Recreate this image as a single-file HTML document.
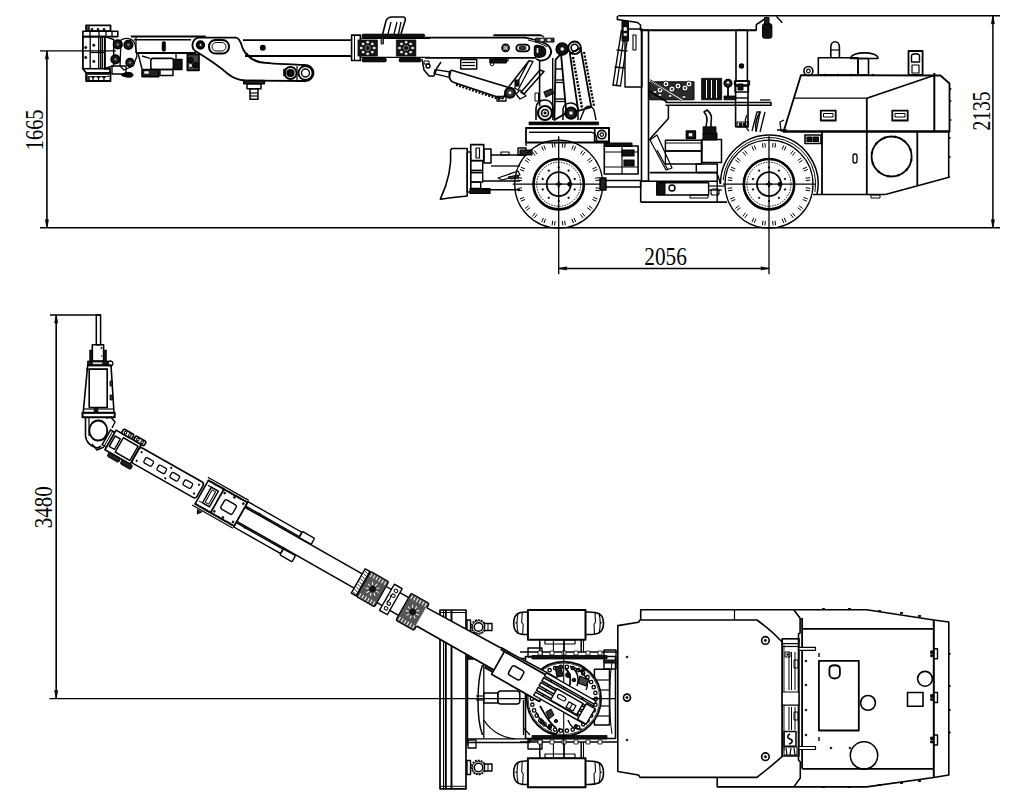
<!DOCTYPE html>
<html><head><meta charset="utf-8"><style>
html,body{margin:0;padding:0;background:#fff;overflow:hidden;}
svg{display:block;}
text{font-family:"Liberation Serif",serif;fill:#000;stroke:none;}
</style></head><body>
<svg width="1011" height="800" viewBox="0 0 1011 800" stroke="#000" fill="none" stroke-linecap="butt" stroke-linejoin="round">
<line x1="40.0" y1="227.8" x2="1000.0" y2="227.8" stroke-width="1.6" />
<line x1="40.0" y1="50.9" x2="116.0" y2="50.9" stroke-width="1.4" />
<line x1="46.9" y1="50.9" x2="46.9" y2="227.8" stroke-width="1.6" />
<path d="M46.9,50.9 L45.3,58.9 L48.5,58.9 Z" stroke-width="0.6" fill="#000" />
<path d="M46.9,227.8 L45.3,219.8 L48.5,219.8 Z" stroke-width="0.6" fill="#000" />
<text x="42.6" y="150.2" font-size="24.5" text-anchor="start" textLength="40.7" lengthAdjust="spacingAndGlyphs" transform="rotate(-90 42.6 150.2)">1665</text>
<line x1="618.0" y1="15.8" x2="1000.0" y2="15.8" stroke-width="1.5" />
<line x1="992.9" y1="15.8" x2="992.9" y2="227.8" stroke-width="1.5" />
<path d="M992.9,15.8 L991.3,23.8 L994.5,23.8 Z" stroke-width="0.6" fill="#000" />
<path d="M992.9,227.8 L991.3,219.8 L994.5,219.8 Z" stroke-width="0.6" fill="#000" />
<text x="990.3" y="130.6" font-size="24.5" text-anchor="start" textLength="39" lengthAdjust="spacingAndGlyphs" transform="rotate(-90 990.3 130.6)">2135</text>
<line x1="558.7" y1="268.4" x2="769.0" y2="268.4" stroke-width="1.5" />
<path d="M558.7,268.4 L566.7,266.8 L566.7,270.0 Z" stroke-width="0.6" fill="#000" />
<path d="M769.0,268.4 L761.0,266.8 L761.0,270.0 Z" stroke-width="0.6" fill="#000" />
<text x="644.3" y="265" font-size="24.5" text-anchor="start" textLength="42.6" lengthAdjust="spacingAndGlyphs">2056</text>
<line x1="50.0" y1="315.0" x2="100.6" y2="315.0" stroke-width="1.5" />
<line x1="56.2" y1="315.0" x2="56.2" y2="698.6" stroke-width="1.6" />
<path d="M56.2,315.0 L54.6,323.0 L57.8,323.0 Z" stroke-width="0.6" fill="#000" />
<path d="M56.2,698.6 L54.6,690.6 L57.8,690.6 Z" stroke-width="0.6" fill="#000" />
<line x1="49.5" y1="698.6" x2="560.0" y2="698.6" stroke-width="1.4" />
<text x="51.7" y="528.3" font-size="24.5" text-anchor="start" textLength="42" lengthAdjust="spacingAndGlyphs" transform="rotate(-90 51.7 528.3)">3480</text>
<rect x="86.1" y="25.3" width="24.4" height="5.9" stroke-width="1.8" fill="none" rx="0" />
<rect x="91.0" y="28.5" width="2.0" height="2.7" stroke-width="0.5" fill="#111" rx="0" />
<rect x="97.0" y="28.5" width="2.0" height="2.7" stroke-width="0.5" fill="#111" rx="0" />
<rect x="103.0" y="28.5" width="2.0" height="2.7" stroke-width="0.5" fill="#111" rx="0" />
<rect x="87.5" y="26.5" width="2.0" height="4.0" stroke-width="0.5" fill="#222" rx="0" />
<rect x="82.9" y="31.3" width="34.9" height="5.3" stroke-width="1.6" fill="none" rx="0" />
<line x1="90.0" y1="31.3" x2="90.0" y2="36.6" stroke-width="1.3" />
<line x1="99.0" y1="31.3" x2="99.0" y2="36.6" stroke-width="1.3" />
<line x1="106.0" y1="31.3" x2="106.0" y2="36.6" stroke-width="1.3" />
<line x1="112.0" y1="31.3" x2="112.0" y2="36.6" stroke-width="1.3" />
<path d="M82.9,36.6 L82.9,68.7 L86.0,72.8 L110.0,72.8 L110.0,68.7 L104.8,68.7 L104.8,36.6 Z" stroke-width="1.8" fill="none" />
<rect x="86.1" y="72.8" width="24.4" height="8.2" stroke-width="1.8" fill="none" rx="0" />
<rect x="87.0" y="74.5" width="22.0" height="2.0" stroke-width="0.8" fill="none" rx="0" />
<path d="M91.2,77 L94.8,77 M93,77 L93,80.5" stroke-width="1.3" fill="none" />
<path d="M96.7,77 L100.3,77 M98.5,77 L98.5,80.5" stroke-width="1.3" fill="none" />
<path d="M102.2,77 L105.8,77 M104,77 L104,80.5" stroke-width="1.3" fill="none" />
<rect x="87.5" y="77.0" width="2.0" height="4.0" stroke-width="0.5" fill="#222" rx="0" />
<line x1="82.9" y1="68.7" x2="110.0" y2="68.7" stroke-width="1.6" />
<line x1="90.2" y1="36.6" x2="90.2" y2="68.7" stroke-width="1.3" />
<line x1="98.7" y1="36.6" x2="98.7" y2="68.7" stroke-width="1.3" />
<line x1="100.7" y1="36.6" x2="100.7" y2="68.7" stroke-width="1.3" />
<line x1="102.4" y1="36.6" x2="102.4" y2="68.7" stroke-width="1.3" />
<line x1="90.2" y1="52.5" x2="104.8" y2="52.5" stroke-width="1.2" />
<path d="M104.8,36.6 L113.7,39.5 L113.7,65.5 L104.8,68.7 Z" stroke-width="1.5" fill="none" />
<circle cx="93.8" cy="45.2" r="1.2" stroke-width="0.5" fill="#000" />
<circle cx="93.8" cy="61.4" r="1.2" stroke-width="0.5" fill="#000" />
<circle cx="85.7" cy="47.5" r="1.2" stroke-width="0.5" fill="#000" />
<circle cx="85.7" cy="57.5" r="1.2" stroke-width="0.5" fill="#000" />
<circle cx="117.8" cy="44.4" r="4.3" stroke-width="1.6" fill="#1a1a1a" />
<circle cx="117.8" cy="44.4" r="1.8" stroke-width="0.6" fill="#777" />
<circle cx="128.4" cy="44.8" r="4.3" stroke-width="1.6" fill="#1a1a1a" />
<circle cx="128.4" cy="44.8" r="1.8" stroke-width="0.6" fill="#777" />
<circle cx="115.4" cy="59.4" r="4.3" stroke-width="1.6" fill="#1a1a1a" />
<circle cx="115.4" cy="59.4" r="1.8" stroke-width="0.6" fill="#777" />
<circle cx="130.0" cy="62.6" r="4.0" stroke-width="1.6" fill="#1a1a1a" />
<circle cx="130.0" cy="62.6" r="1.8" stroke-width="0.6" fill="#777" />
<path d="M121,40 C125,37 133,38 135,44 L137,56 L133,66 L124,70 L120,66 Z" stroke-width="1.3" fill="none" />
<path d="M112.0,66.0 L126.0,66.0 L126.0,74.0 L112.0,74.0 Z" stroke-width="1.4" fill="none" />
<path d="M121,75 C126,71 133,72 133,75 C133,78 126,78 121,75 Z" stroke-width="1" fill="#000" />
<line x1="130.8" y1="36.6" x2="205.6" y2="36.6" stroke-width="2.0" />
<line x1="134.0" y1="39.8" x2="191.0" y2="39.8" stroke-width="1.5" />
<line x1="136.0" y1="53.0" x2="196.0" y2="53.0" stroke-width="1.8" />
<line x1="136.0" y1="36.6" x2="136.0" y2="53.0" stroke-width="1.2" />
<rect x="162.0" y="41.5" width="3.6" height="9.8" stroke-width="0.5" fill="#000" rx="1.5" />
<rect x="150.8" y="58.4" width="22.7" height="11.1" stroke-width="1.6" fill="none" rx="2" />
<rect x="142.0" y="69.5" width="16.8" height="7.1" stroke-width="1.6" fill="#222" rx="0" />
<rect x="144.0" y="71.0" width="5.0" height="3.0" stroke-width="0.5" fill="#fff" rx="0" />
<rect x="173.5" y="59.3" width="8.5" height="10.2" stroke-width="1.3" fill="#111" rx="0" />
<rect x="187.3" y="54.4" width="11.7" height="16.0" stroke-width="1.6" fill="#444" rx="0" />
<circle cx="190.5" cy="60.0" r="2.8" stroke-width="1" fill="#111" />
<circle cx="195.5" cy="65.0" r="2.8" stroke-width="1" fill="#111" />
<rect x="189.0" y="64.0" width="3.0" height="3.0" stroke-width="0.4" fill="#fff" rx="0" />
<rect x="160.0" y="69.5" width="13.0" height="6.0" stroke-width="1.5" fill="none" rx="0" />
<line x1="138.0" y1="53.0" x2="142.0" y2="69.0" stroke-width="1.4" />
<line x1="142.0" y1="56.0" x2="150.0" y2="58.4" stroke-width="1.4" />
<line x1="176.0" y1="53.0" x2="176.0" y2="59.3" stroke-width="1.3" />
<rect x="526.0" y="128.0" width="83.0" height="14.5" stroke-width="1.8" fill="none" rx="0" />
<line x1="529.0" y1="132.4" x2="592.0" y2="132.4" stroke-width="1.4" />
<path d="M529,132.4 L592,132.4 C595,133 597,136 597,142.6" stroke-width="1.4" fill="none" />
<rect x="594.7" y="128.0" width="14.3" height="13.4" stroke-width="1.8" fill="none" rx="0" />
<circle cx="601.8" cy="134.6" r="4.2" stroke-width="1.6" fill="none" />
<circle cx="601.8" cy="134.6" r="1.8" stroke-width="1.2" fill="none" />
<path d="M452,148.5 L467.2,148.5 L467.2,196 C458,197 448,198 440.3,199.2 C447,185 452,170 450.6,150 Z" stroke-width="1.6" fill="none" />
<rect x="467.2" y="152.0" width="3.5" height="40.0" stroke-width="1.3" fill="none" rx="0" />
<rect x="470.7" y="144.6" width="13.0" height="16.0" stroke-width="1.6" fill="none" rx="0" />
<rect x="476.0" y="148.0" width="3.5" height="10.0" stroke-width="1.2" fill="none" rx="0" />
<rect x="484.0" y="149.0" width="7.0" height="14.0" stroke-width="1.5" fill="none" rx="0" />
<rect x="470.7" y="160.6" width="12.0" height="12.0" stroke-width="1.4" fill="none" rx="0" />
<rect x="470.7" y="172.6" width="12.0" height="9.5" stroke-width="1.4" fill="none" rx="0" />
<rect x="470.7" y="182.0" width="10.0" height="6.5" stroke-width="1.4" fill="none" rx="0" />
<rect x="470.0" y="188.5" width="20.0" height="5.0" stroke-width="1.2" fill="#111" rx="0" />
<line x1="470.7" y1="170.5" x2="483.0" y2="170.5" stroke-width="1.8" />
<line x1="491.0" y1="155.0" x2="525.0" y2="155.0" stroke-width="1.5" />
<line x1="491.0" y1="166.0" x2="520.0" y2="166.0" stroke-width="1.3" />
<line x1="483.0" y1="181.0" x2="520.0" y2="181.0" stroke-width="1.5" />
<line x1="483.0" y1="189.7" x2="520.0" y2="189.7" stroke-width="1.5" />
<path d="M498.0,178.0 L518.0,171.0 L520.0,175.0 L502.0,180.0 Z" stroke-width="1.2" fill="none" />
<path d="M508,177 L518,175 L519,178 L510,179 Z" stroke-width="1" fill="#333" />
<rect x="501.0" y="152.0" width="8.0" height="3.0" stroke-width="1.2" fill="none" rx="0" />
<rect x="518.0" y="148.0" width="8.0" height="7.0" stroke-width="1.4" fill="none" rx="0" />
<path d="M526,142.6 L526,146" stroke-width="1.4" fill="none" />
<rect x="520.0" y="150.0" width="12.0" height="5.0" stroke-width="1.2" fill="#222" rx="0" />
<circle cx="558.7" cy="184.2" r="44.0" stroke-width="1.3" fill="none" />
<line x1="595.5" y1="187.8" x2="600.0" y2="188.4" stroke-width="1.0" />
<line x1="595.2" y1="190.2" x2="599.7" y2="190.8" stroke-width="1.0" />
<line x1="593.3" y1="197.3" x2="597.5" y2="199.0" stroke-width="1.0" />
<line x1="592.4" y1="199.5" x2="596.6" y2="201.2" stroke-width="1.0" />
<line x1="588.8" y1="205.8" x2="592.4" y2="208.5" stroke-width="1.0" />
<line x1="587.3" y1="207.7" x2="590.9" y2="210.4" stroke-width="1.0" />
<line x1="582.2" y1="212.8" x2="584.9" y2="216.4" stroke-width="1.0" />
<line x1="580.3" y1="214.3" x2="583.0" y2="217.9" stroke-width="1.0" />
<line x1="574.0" y1="217.9" x2="575.7" y2="222.1" stroke-width="1.0" />
<line x1="571.8" y1="218.8" x2="573.5" y2="223.0" stroke-width="1.0" />
<line x1="564.7" y1="220.7" x2="565.3" y2="225.2" stroke-width="1.0" />
<line x1="562.3" y1="221.0" x2="562.9" y2="225.5" stroke-width="1.0" />
<line x1="555.1" y1="221.0" x2="554.5" y2="225.5" stroke-width="1.0" />
<line x1="552.7" y1="220.7" x2="552.1" y2="225.2" stroke-width="1.0" />
<line x1="545.6" y1="218.8" x2="543.9" y2="223.0" stroke-width="1.0" />
<line x1="543.4" y1="217.9" x2="541.7" y2="222.1" stroke-width="1.0" />
<line x1="537.1" y1="214.3" x2="534.4" y2="217.9" stroke-width="1.0" />
<line x1="535.2" y1="212.8" x2="532.5" y2="216.4" stroke-width="1.0" />
<line x1="530.1" y1="207.7" x2="526.5" y2="210.4" stroke-width="1.0" />
<line x1="528.6" y1="205.8" x2="525.0" y2="208.5" stroke-width="1.0" />
<line x1="525.0" y1="199.5" x2="520.8" y2="201.2" stroke-width="1.0" />
<line x1="524.1" y1="197.3" x2="519.9" y2="199.0" stroke-width="1.0" />
<line x1="522.2" y1="190.2" x2="517.7" y2="190.8" stroke-width="1.0" />
<line x1="521.9" y1="187.8" x2="517.4" y2="188.4" stroke-width="1.0" />
<line x1="521.9" y1="180.6" x2="517.4" y2="180.0" stroke-width="1.0" />
<line x1="522.2" y1="178.2" x2="517.7" y2="177.6" stroke-width="1.0" />
<line x1="524.1" y1="171.1" x2="519.9" y2="169.4" stroke-width="1.0" />
<line x1="525.0" y1="168.9" x2="520.8" y2="167.2" stroke-width="1.0" />
<line x1="528.6" y1="162.6" x2="525.0" y2="159.9" stroke-width="1.0" />
<line x1="530.1" y1="160.7" x2="526.5" y2="158.0" stroke-width="1.0" />
<line x1="535.2" y1="155.6" x2="532.5" y2="152.0" stroke-width="1.0" />
<line x1="537.1" y1="154.1" x2="534.4" y2="150.5" stroke-width="1.0" />
<line x1="543.4" y1="150.5" x2="541.7" y2="146.3" stroke-width="1.0" />
<line x1="545.6" y1="149.6" x2="543.9" y2="145.4" stroke-width="1.0" />
<line x1="552.7" y1="147.7" x2="552.1" y2="143.2" stroke-width="1.0" />
<line x1="555.1" y1="147.4" x2="554.5" y2="142.9" stroke-width="1.0" />
<line x1="562.3" y1="147.4" x2="562.9" y2="142.9" stroke-width="1.0" />
<line x1="564.7" y1="147.7" x2="565.3" y2="143.2" stroke-width="1.0" />
<line x1="571.8" y1="149.6" x2="573.5" y2="145.4" stroke-width="1.0" />
<line x1="574.0" y1="150.5" x2="575.7" y2="146.3" stroke-width="1.0" />
<line x1="580.3" y1="154.1" x2="583.0" y2="150.5" stroke-width="1.0" />
<line x1="582.2" y1="155.6" x2="584.9" y2="152.0" stroke-width="1.0" />
<line x1="587.3" y1="160.7" x2="590.9" y2="158.0" stroke-width="1.0" />
<line x1="588.8" y1="162.6" x2="592.4" y2="159.9" stroke-width="1.0" />
<line x1="592.4" y1="168.9" x2="596.6" y2="167.2" stroke-width="1.0" />
<line x1="593.3" y1="171.1" x2="597.5" y2="169.4" stroke-width="1.0" />
<line x1="595.2" y1="178.2" x2="599.7" y2="177.6" stroke-width="1.0" />
<line x1="595.5" y1="180.6" x2="600.0" y2="180.0" stroke-width="1.0" />
<circle cx="558.7" cy="184.2" r="25.2" stroke-width="2.6" fill="none" />
<circle cx="558.7" cy="184.2" r="22.0" stroke-width="1.0" fill="none" stroke-dasharray="1.5,1.2"/>
<circle cx="558.7" cy="184.2" r="12.0" stroke-width="1.8" fill="none" />
<circle cx="574.7" cy="189.4" r="0.9" stroke-width="0.4" fill="#000" />
<circle cx="568.6" cy="197.8" r="0.9" stroke-width="0.4" fill="#000" />
<circle cx="558.7" cy="201.0" r="0.9" stroke-width="0.4" fill="#000" />
<circle cx="548.8" cy="197.8" r="0.9" stroke-width="0.4" fill="#000" />
<circle cx="542.7" cy="189.4" r="0.9" stroke-width="0.4" fill="#000" />
<circle cx="542.7" cy="179.0" r="0.9" stroke-width="0.4" fill="#000" />
<circle cx="548.8" cy="170.6" r="0.9" stroke-width="0.4" fill="#000" />
<circle cx="558.7" cy="167.4" r="0.9" stroke-width="0.4" fill="#000" />
<circle cx="568.6" cy="170.6" r="0.9" stroke-width="0.4" fill="#000" />
<circle cx="574.7" cy="179.0" r="0.9" stroke-width="0.4" fill="#000" />
<circle cx="569.7" cy="184.2" r="2.2" stroke-width="0.5" fill="#000" />
<line x1="512.7" y1="184.2" x2="604.7" y2="184.2" stroke-width="1.3" />
<line x1="558.7" y1="136.2" x2="558.7" y2="274.2" stroke-width="1.3" />
<line x1="555.7" y1="184.2" x2="561.7" y2="184.2" stroke-width="2" />
<line x1="558.7" y1="181.2" x2="558.7" y2="187.2" stroke-width="2" />
<rect x="604.3" y="146.0" width="33.8" height="28.0" stroke-width="1.6" fill="none" rx="0" />
<rect x="604.0" y="143.0" width="28.0" height="3.5" stroke-width="1.0" fill="#111" rx="0" />
<line x1="604.3" y1="152.0" x2="638.0" y2="152.0" stroke-width="1.2" />
<line x1="604.3" y1="167.0" x2="638.0" y2="167.0" stroke-width="1.2" />
<rect x="622.0" y="150.0" width="12.0" height="6.0" stroke-width="1.2" fill="#111" rx="0" />
<rect x="624.0" y="160.0" width="10.0" height="6.0" stroke-width="1.2" fill="#111" rx="0" />
<line x1="622.0" y1="146.0" x2="622.0" y2="174.0" stroke-width="1.2" />
<rect x="603.6" y="180.5" width="37.0" height="6.5" stroke-width="1.4" fill="none" rx="0" />
<rect x="600.0" y="178.0" width="6.0" height="12.0" stroke-width="1.4" fill="#222" rx="0" />
<path d="M617.4,15.9 L617.4,19.5 L637.5,22.5 L640.5,25 L640.5,30.3 L756.3,30.3 L756.3,24.7 L767.4,17.1" stroke-width="1.6" fill="none" />
<line x1="640.5" y1="30.3" x2="756.0" y2="30.3" stroke-width="1.8" />
<rect x="641.5" y="30.3" width="7.0" height="151.0" stroke-width="1.6" fill="none" rx="0" />
<rect x="736.0" y="30.3" width="11.4" height="51.0" stroke-width="1.6" fill="none" rx="0" />
<circle cx="741.5" cy="66.0" r="2.0" stroke-width="1.4" fill="#000" />
<rect x="625.0" y="29.0" width="17.0" height="58.0" stroke-width="1.4" fill="none" rx="0" />
<rect x="633.0" y="35.0" width="3.0" height="15.0" stroke-width="1.1" fill="none" rx="0" />
<path d="M621.5,30 L613,85" stroke-width="1.4" fill="none" />
<path d="M625,30 L616.5,85.5" stroke-width="1.3" fill="none" />
<path d="M628.5,31 L620.5,86" stroke-width="1.3" fill="none" />
<line x1="612.5" y1="85.0" x2="621.0" y2="86.0" stroke-width="1.5" />
<line x1="616.5" y1="50.0" x2="627.5" y2="51.0" stroke-width="1.3" />
<line x1="614.5" y1="67.0" x2="625.0" y2="68.0" stroke-width="1.3" />
<line x1="621.0" y1="32.0" x2="628.0" y2="33.0" stroke-width="1.2" />
<rect x="622.0" y="21.0" width="6.5" height="20.0" stroke-width="1.0" fill="#111" rx="0" />
<rect x="623.5" y="27.0" width="3.5" height="4.0" stroke-width="0.4" fill="#fff" rx="0" />
<rect x="623.5" y="33.0" width="3.5" height="3.0" stroke-width="0.4" fill="#fff" rx="0" />
<rect x="762.5" y="23.7" width="9.4" height="14.5" stroke-width="1.0" fill="#111" rx="2" />
<rect x="764.5" y="17.5" width="4.5" height="6.5" stroke-width="1.0" fill="#222" rx="0" />
<line x1="776.5" y1="16.5" x2="782.3" y2="22.7" stroke-width="1.5" />
<rect x="649.7" y="81.8" width="44.3" height="18.0" stroke-width="1.0" fill="#2a2a2a" rx="0" />
<circle cx="666.0" cy="84.0" r="3.0" stroke-width="0.8" fill="#fff" />
<circle cx="666.0" cy="84.0" r="1.0" stroke-width="0.4" fill="#333" />
<circle cx="672.0" cy="89.0" r="3.0" stroke-width="0.8" fill="#fff" />
<circle cx="672.0" cy="89.0" r="1.0" stroke-width="0.4" fill="#333" />
<circle cx="678.0" cy="86.0" r="3.0" stroke-width="0.8" fill="#fff" />
<circle cx="678.0" cy="86.0" r="1.0" stroke-width="0.4" fill="#333" />
<circle cx="685.0" cy="88.0" r="3.0" stroke-width="0.8" fill="#fff" />
<circle cx="685.0" cy="88.0" r="1.0" stroke-width="0.4" fill="#333" />
<circle cx="660.0" cy="90.0" r="3.0" stroke-width="0.8" fill="#fff" />
<circle cx="660.0" cy="90.0" r="1.0" stroke-width="0.4" fill="#333" />
<circle cx="689.0" cy="84.0" r="3.0" stroke-width="0.8" fill="#fff" />
<circle cx="689.0" cy="84.0" r="1.0" stroke-width="0.4" fill="#333" />
<rect x="653.5" y="91.0" width="3.0" height="2.0" stroke-width="0.4" fill="#fff" rx="0" />
<rect x="658.5" y="94.0" width="3.0" height="2.0" stroke-width="0.4" fill="#fff" rx="0" />
<rect x="668.5" y="95.0" width="3.0" height="2.0" stroke-width="0.4" fill="#fff" rx="0" />
<rect x="682.5" y="96.0" width="3.0" height="2.0" stroke-width="0.4" fill="#fff" rx="0" />
<path d="M650,80.5 L682,100" stroke-width="2.6" fill="none" stroke="#fff"/>
<path d="M650,79.7 L682.5,99.2 M650,81.3 L681.5,100.8" stroke-width="0.9" fill="none" />
<rect x="701.6" y="78.3" width="20.1" height="21.5" stroke-width="0.8" fill="#111" rx="0" />
<line x1="706.5" y1="80.0" x2="706.5" y2="98.0" stroke-width="1.0" stroke="#fff"/>
<line x1="711.5" y1="80.0" x2="711.5" y2="98.0" stroke-width="1.0" stroke="#fff"/>
<line x1="716.5" y1="80.0" x2="716.5" y2="98.0" stroke-width="1.0" stroke="#fff"/>
<circle cx="728.0" cy="83.2" r="3.8" stroke-width="1.5" fill="#222" />
<circle cx="728.0" cy="82.5" r="1.5" stroke-width="0.4" fill="#fff" />
<line x1="728.0" y1="87.0" x2="728.0" y2="96.0" stroke-width="1.8" />
<rect x="724.0" y="96.0" width="11.0" height="3.8" stroke-width="0.8" fill="#111" rx="0" />
<path d="M665.6,102.5 L771,102.5 L771,105.3 L665.6,105.3" stroke-width="1.5" fill="none" />
<line x1="760.0" y1="100.0" x2="770.5" y2="100.0" stroke-width="1.3" />
<rect x="735.6" y="81.0" width="12.4" height="45.8" stroke-width="1.6" fill="none" rx="0" />
<rect x="734.5" y="81.0" width="15.0" height="4.0" stroke-width="1.3" fill="none" rx="0" />
<rect x="735.0" y="86.0" width="13.5" height="6.0" stroke-width="1.3" fill="none" rx="0" />
<rect x="738.0" y="84.0" width="5.0" height="6.0" stroke-width="1.0" fill="#111" rx="0" />
<line x1="735.6" y1="98.0" x2="748.0" y2="98.0" stroke-width="1.4" />
<rect x="737.0" y="122.0" width="11.0" height="5.0" stroke-width="1.2" fill="none" rx="0" />
<rect x="739.0" y="123.0" width="3.0" height="3.0" stroke-width="0.4" fill="#111" rx="0" />
<rect x="743.0" y="123.0" width="3.0" height="3.0" stroke-width="0.4" fill="#111" rx="0" />
<path d="M760.5,111.5 C756,118 755,125 756,131" stroke-width="1.4" fill="none" />
<path d="M765,112 L760,132" stroke-width="1.3" fill="none" />
<path d="M649,90.8 L667,102 M668.4,105.3 L668.4,118.5 L649,140" stroke-width="1.5" fill="none" />
<path d="M650,140 L657,135 L672,168 L666,170 Z" stroke-width="1.2" fill="none" />
<line x1="657.0" y1="150.0" x2="668.0" y2="170.0" stroke-width="1.2" />
<rect x="665.4" y="140.3" width="36.0" height="10.7" stroke-width="1.5" fill="none" rx="0" />
<line x1="665.4" y1="143.0" x2="701.0" y2="143.0" stroke-width="1.2" />
<rect x="665.4" y="151.0" width="36.0" height="13.0" stroke-width="1.3" fill="none" rx="0" />
<rect x="696.3" y="164.0" width="21.0" height="8.6" stroke-width="1.5" fill="none" rx="0" />
<rect x="702.0" y="139.6" width="19.5" height="23.0" stroke-width="1.5" fill="none" rx="0" />
<rect x="703.0" y="133.0" width="14.0" height="7.0" stroke-width="1.0" fill="#111" rx="0" />
<path d="M706,127 L707,120 C707,116 706,114 704,112 L707,110 C711,113 712,118 711,122 L711,127" stroke-width="1.6" fill="none" />
<rect x="703.0" y="126.8" width="13.0" height="7.0" stroke-width="0.8" fill="#111" rx="0" />
<rect x="686.4" y="131.0" width="9.0" height="7.6" stroke-width="1.5" fill="#111" rx="0" />
<rect x="688.5" y="133.0" width="4.0" height="3.5" stroke-width="0.4" fill="#fff" rx="0" />
<line x1="649.6" y1="172.6" x2="717.2" y2="172.6" stroke-width="1.8" />
<line x1="640.7" y1="181.2" x2="717.0" y2="181.2" stroke-width="1.6" />
<line x1="640.7" y1="202.1" x2="727.0" y2="202.1" stroke-width="1.8" />
<line x1="640.7" y1="181.2" x2="640.7" y2="202.1" stroke-width="1.6" />
<rect x="656.8" y="182.7" width="51.8" height="12.3" stroke-width="1.4" fill="none" rx="0" />
<rect x="657.0" y="182.7" width="8.0" height="12.0" stroke-width="1.0" fill="#111" rx="0" />
<circle cx="672.0" cy="188.0" r="3.0" stroke-width="1.4" fill="none" />
<rect x="690.0" y="195.0" width="18.0" height="3.0" stroke-width="1.0" fill="none" rx="0" />
<rect x="711.0" y="189.0" width="8.0" height="6.0" stroke-width="1.2" fill="none" rx="2" />
<line x1="708.6" y1="186.0" x2="725.0" y2="186.0" stroke-width="1.2" />
<line x1="708.6" y1="190.0" x2="722.0" y2="190.0" stroke-width="1.2" />
<line x1="717.2" y1="172.6" x2="717.2" y2="202.0" stroke-width="1.4" />
<path d="M720.5,184.1 A48.8,48.8 0 1 1 817.0,194.2" stroke-width="1.5" fill="none" />
<path d="M723.2,180.1 A46.3,46.3 0 1 1 814.9,192.1" stroke-width="1.0" fill="none" />
<line x1="717.0" y1="172.6" x2="720.5" y2="184.0" stroke-width="1.4" />
<circle cx="769.0" cy="184.2" r="44.0" stroke-width="1.3" fill="none" />
<line x1="805.8" y1="187.8" x2="810.3" y2="188.4" stroke-width="1.0" />
<line x1="805.5" y1="190.2" x2="810.0" y2="190.8" stroke-width="1.0" />
<line x1="803.6" y1="197.3" x2="807.8" y2="199.0" stroke-width="1.0" />
<line x1="802.7" y1="199.5" x2="806.9" y2="201.2" stroke-width="1.0" />
<line x1="799.1" y1="205.8" x2="802.7" y2="208.5" stroke-width="1.0" />
<line x1="797.6" y1="207.7" x2="801.2" y2="210.4" stroke-width="1.0" />
<line x1="792.5" y1="212.8" x2="795.2" y2="216.4" stroke-width="1.0" />
<line x1="790.6" y1="214.3" x2="793.3" y2="217.9" stroke-width="1.0" />
<line x1="784.3" y1="217.9" x2="786.0" y2="222.1" stroke-width="1.0" />
<line x1="782.1" y1="218.8" x2="783.8" y2="223.0" stroke-width="1.0" />
<line x1="775.0" y1="220.7" x2="775.6" y2="225.2" stroke-width="1.0" />
<line x1="772.6" y1="221.0" x2="773.2" y2="225.5" stroke-width="1.0" />
<line x1="765.4" y1="221.0" x2="764.8" y2="225.5" stroke-width="1.0" />
<line x1="763.0" y1="220.7" x2="762.4" y2="225.2" stroke-width="1.0" />
<line x1="755.9" y1="218.8" x2="754.2" y2="223.0" stroke-width="1.0" />
<line x1="753.7" y1="217.9" x2="752.0" y2="222.1" stroke-width="1.0" />
<line x1="747.4" y1="214.3" x2="744.7" y2="217.9" stroke-width="1.0" />
<line x1="745.5" y1="212.8" x2="742.8" y2="216.4" stroke-width="1.0" />
<line x1="740.4" y1="207.7" x2="736.8" y2="210.4" stroke-width="1.0" />
<line x1="738.9" y1="205.8" x2="735.3" y2="208.5" stroke-width="1.0" />
<line x1="735.3" y1="199.5" x2="731.1" y2="201.2" stroke-width="1.0" />
<line x1="734.4" y1="197.3" x2="730.2" y2="199.0" stroke-width="1.0" />
<line x1="732.5" y1="190.2" x2="728.0" y2="190.8" stroke-width="1.0" />
<line x1="732.2" y1="187.8" x2="727.7" y2="188.4" stroke-width="1.0" />
<line x1="732.2" y1="180.6" x2="727.7" y2="180.0" stroke-width="1.0" />
<line x1="732.5" y1="178.2" x2="728.0" y2="177.6" stroke-width="1.0" />
<line x1="734.4" y1="171.1" x2="730.2" y2="169.4" stroke-width="1.0" />
<line x1="735.3" y1="168.9" x2="731.1" y2="167.2" stroke-width="1.0" />
<line x1="738.9" y1="162.6" x2="735.3" y2="159.9" stroke-width="1.0" />
<line x1="740.4" y1="160.7" x2="736.8" y2="158.0" stroke-width="1.0" />
<line x1="745.5" y1="155.6" x2="742.8" y2="152.0" stroke-width="1.0" />
<line x1="747.4" y1="154.1" x2="744.7" y2="150.5" stroke-width="1.0" />
<line x1="753.7" y1="150.5" x2="752.0" y2="146.3" stroke-width="1.0" />
<line x1="755.9" y1="149.6" x2="754.2" y2="145.4" stroke-width="1.0" />
<line x1="763.0" y1="147.7" x2="762.4" y2="143.2" stroke-width="1.0" />
<line x1="765.4" y1="147.4" x2="764.8" y2="142.9" stroke-width="1.0" />
<line x1="772.6" y1="147.4" x2="773.2" y2="142.9" stroke-width="1.0" />
<line x1="775.0" y1="147.7" x2="775.6" y2="143.2" stroke-width="1.0" />
<line x1="782.1" y1="149.6" x2="783.8" y2="145.4" stroke-width="1.0" />
<line x1="784.3" y1="150.5" x2="786.0" y2="146.3" stroke-width="1.0" />
<line x1="790.6" y1="154.1" x2="793.3" y2="150.5" stroke-width="1.0" />
<line x1="792.5" y1="155.6" x2="795.2" y2="152.0" stroke-width="1.0" />
<line x1="797.6" y1="160.7" x2="801.2" y2="158.0" stroke-width="1.0" />
<line x1="799.1" y1="162.6" x2="802.7" y2="159.9" stroke-width="1.0" />
<line x1="802.7" y1="168.9" x2="806.9" y2="167.2" stroke-width="1.0" />
<line x1="803.6" y1="171.1" x2="807.8" y2="169.4" stroke-width="1.0" />
<line x1="805.5" y1="178.2" x2="810.0" y2="177.6" stroke-width="1.0" />
<line x1="805.8" y1="180.6" x2="810.3" y2="180.0" stroke-width="1.0" />
<circle cx="769.0" cy="184.2" r="25.2" stroke-width="2.6" fill="none" />
<circle cx="769.0" cy="184.2" r="22.0" stroke-width="1.0" fill="none" stroke-dasharray="1.5,1.2"/>
<circle cx="769.0" cy="184.2" r="12.0" stroke-width="1.8" fill="none" />
<circle cx="785.0" cy="189.4" r="0.9" stroke-width="0.4" fill="#000" />
<circle cx="778.9" cy="197.8" r="0.9" stroke-width="0.4" fill="#000" />
<circle cx="769.0" cy="201.0" r="0.9" stroke-width="0.4" fill="#000" />
<circle cx="759.1" cy="197.8" r="0.9" stroke-width="0.4" fill="#000" />
<circle cx="753.0" cy="189.4" r="0.9" stroke-width="0.4" fill="#000" />
<circle cx="753.0" cy="179.0" r="0.9" stroke-width="0.4" fill="#000" />
<circle cx="759.1" cy="170.6" r="0.9" stroke-width="0.4" fill="#000" />
<circle cx="769.0" cy="167.4" r="0.9" stroke-width="0.4" fill="#000" />
<circle cx="778.9" cy="170.6" r="0.9" stroke-width="0.4" fill="#000" />
<circle cx="785.0" cy="179.0" r="0.9" stroke-width="0.4" fill="#000" />
<circle cx="780.0" cy="184.2" r="2.2" stroke-width="0.5" fill="#000" />
<line x1="723.0" y1="184.2" x2="815.0" y2="184.2" stroke-width="1.3" />
<line x1="769.0" y1="136.2" x2="769.0" y2="274.2" stroke-width="1.3" />
<line x1="766.0" y1="184.2" x2="772.0" y2="184.2" stroke-width="2" />
<line x1="769.0" y1="181.2" x2="769.0" y2="187.2" stroke-width="2" />
<path d="M752,131 L757,112 L760,112 L756,132" stroke-width="1.3" fill="none" />
<path d="M747,115 C744,120 745,128 749,131" stroke-width="1.3" fill="none" />
<path d="M801.0,75.1 L940.5,75.5 L949.5,83.5 L949.5,131.5 L783.6,131.5 Z" stroke-width="1.8" fill="none" />
<line x1="934.3" y1="73.0" x2="934.3" y2="131.5" stroke-width="2.0" />
<line x1="793.0" y1="98.2" x2="866.8" y2="98.2" stroke-width="1.3" />
<line x1="866.8" y1="98.2" x2="933.8" y2="75.4" stroke-width="1.6" />
<line x1="866.8" y1="98.2" x2="866.8" y2="195.0" stroke-width="1.8" />
<line x1="783.0" y1="131.5" x2="949.5" y2="131.5" stroke-width="2.2" />
<rect x="820.8" y="110.6" width="14.9" height="9.9" stroke-width="1.8" fill="none" rx="0" />
<rect x="823.5" y="113.5" width="9.5" height="3.5" stroke-width="1.0" fill="none" rx="0" />
<rect x="892.3" y="110.6" width="15.4" height="9.9" stroke-width="1.8" fill="none" rx="0" />
<rect x="895.0" y="113.5" width="10.0" height="3.5" stroke-width="1.0" fill="none" rx="0" />
<line x1="949.5" y1="89.0" x2="951.3" y2="89.0" stroke-width="1.8" />
<line x1="949.5" y1="101.0" x2="951.3" y2="101.0" stroke-width="1.8" />
<line x1="949.5" y1="120.0" x2="951.3" y2="120.0" stroke-width="1.8" />
<rect x="818.3" y="57.7" width="39.7" height="17.4" stroke-width="1.6" fill="none" rx="0" />
<path d="M830.8,57.7 L830.8,47 C830.8,40 839.4,40 839.4,47 L839.4,57.7" stroke-width="1.6" fill="none" />
<line x1="830.8" y1="50.0" x2="839.4" y2="50.0" stroke-width="1.2" />
<path d="M850.6,58.5 C851,51 878,51 878,58.5 Z" stroke-width="1.6" fill="none" />
<rect x="858.0" y="58.5" width="10.5" height="16.6" stroke-width="1.6" fill="none" rx="0" />
<rect x="908.5" y="51.0" width="14.1" height="24.0" stroke-width="1.8" fill="none" rx="0" />
<path d="M911.5,62 L911.5,56 C911.5,53 919.5,53 919.5,56 L919.5,62 Z" stroke-width="1.4" fill="none" />
<rect x="912.0" y="65.0" width="7.0" height="8.0" stroke-width="1.2" fill="none" rx="0" />
<circle cx="808.4" cy="71.0" r="4.5" stroke-width="1.6" fill="none" />
<circle cx="808.4" cy="71.0" r="1.8" stroke-width="1.2" fill="none" />
<circle cx="825.0" cy="75.0" r="1.0" stroke-width="0.5" fill="#000" />
<circle cx="838.0" cy="75.0" r="1.0" stroke-width="0.5" fill="#000" />
<circle cx="851.0" cy="75.0" r="1.0" stroke-width="0.5" fill="#000" />
<circle cx="873.0" cy="75.0" r="1.0" stroke-width="0.5" fill="#000" />
<path d="M783.6,131 L781,131 L780,122 L784,120" stroke-width="1.3" fill="none" />
<line x1="777.0" y1="130.0" x2="787.0" y2="130.0" stroke-width="1.5" />
<line x1="822.0" y1="131.0" x2="822.0" y2="194.5" stroke-width="1.8" />
<line x1="917.3" y1="131.0" x2="917.3" y2="185.0" stroke-width="1.8" />
<line x1="948.7" y1="131.0" x2="948.7" y2="177.0" stroke-width="1.6" />
<line x1="813.0" y1="194.5" x2="885.4" y2="194.5" stroke-width="1.6" />
<line x1="885.4" y1="194.5" x2="950.0" y2="177.0" stroke-width="1.6" />
<line x1="948.7" y1="138.0" x2="950.5" y2="138.0" stroke-width="1.8" />
<line x1="948.7" y1="157.0" x2="950.5" y2="157.0" stroke-width="1.8" />
<rect x="853.0" y="154.0" width="4.0" height="9.0" stroke-width="1.3" fill="none" rx="2" />
<circle cx="891.6" cy="156.5" r="20.0" stroke-width="1.8" fill="none" />
<circle cx="911.3" cy="160.0" r="1.0" stroke-width="0.5" fill="#000" />
<circle cx="906.9" cy="169.4" r="1.0" stroke-width="0.5" fill="#000" />
<circle cx="898.4" cy="175.3" r="1.0" stroke-width="0.5" fill="#000" />
<circle cx="888.1" cy="176.2" r="1.0" stroke-width="0.5" fill="#000" />
<circle cx="878.7" cy="171.8" r="1.0" stroke-width="0.5" fill="#000" />
<circle cx="872.8" cy="163.3" r="1.0" stroke-width="0.5" fill="#000" />
<circle cx="871.9" cy="153.0" r="1.0" stroke-width="0.5" fill="#000" />
<circle cx="876.3" cy="143.6" r="1.0" stroke-width="0.5" fill="#000" />
<circle cx="884.8" cy="137.7" r="1.0" stroke-width="0.5" fill="#000" />
<circle cx="895.1" cy="136.8" r="1.0" stroke-width="0.5" fill="#000" />
<circle cx="904.5" cy="141.2" r="1.0" stroke-width="0.5" fill="#000" />
<circle cx="910.4" cy="149.7" r="1.0" stroke-width="0.5" fill="#000" />
<rect x="805.0" y="135.0" width="16.0" height="8.5" stroke-width="1.6" fill="none" rx="0" />
<rect x="807.0" y="137.0" width="5.0" height="4.5" stroke-width="1.2" fill="#111" rx="0" />
<rect x="813.5" y="137.0" width="5.0" height="4.5" stroke-width="1.2" fill="#111" rx="0" />
<rect x="871.0" y="195.0" width="9.0" height="3.0" stroke-width="1.0" fill="none" rx="0" />
<path d="M199,37.7 L236,37.7 C240,38 241,44 243,49 C246,55 251,60 260,62.4 C268,63.6 280,64 305.5,65 A8,8 0 0 1 305.5,81 L245,80.5 C238,80 233,78 228,74 C220,67 210,60 197,52 A7.5,7.5 0 0 1 199,37.7 Z" stroke-width="1.8" fill="none" />
<path d="M247,53 C252,60 258,62 270,63" stroke-width="1.0" fill="none" />
<circle cx="200.5" cy="45.0" r="3.6" stroke-width="2.2" fill="#111" />
<circle cx="200.5" cy="45.0" r="1.2" stroke-width="0.5" fill="#fff" />
<rect x="209.0" y="40.0" width="20.0" height="13.5" stroke-width="2.0" fill="none" rx="6.5" />
<rect x="212.0" y="42.5" width="14.0" height="8.5" stroke-width="1.0" fill="none" rx="4.2" />
<circle cx="262.8" cy="47.7" r="2.2" stroke-width="1.6" fill="#000" />
<circle cx="290.5" cy="73.0" r="6.0" stroke-width="1.8" fill="none" />
<circle cx="290.5" cy="73.0" r="3.0" stroke-width="2.2" fill="#111" />
<circle cx="305.5" cy="73.0" r="7.0" stroke-width="1.8" fill="none" />
<circle cx="305.5" cy="73.0" r="4.0" stroke-width="1.4" fill="none" />
<line x1="297.0" y1="66.0" x2="297.0" y2="80.5" stroke-width="1.2" />
<rect x="283.5" y="69.0" width="2.4" height="7.0" stroke-width="0.5" fill="#000" rx="0" />
<rect x="243.8" y="80.5" width="20.5" height="3.2" stroke-width="1.6" fill="#222" rx="0" />
<rect x="247.0" y="83.7" width="14.0" height="5.0" stroke-width="1.5" fill="none" rx="0" />
<rect x="250.0" y="88.7" width="8.0" height="10.5" stroke-width="1.5" fill="none" rx="0" />
<line x1="250.0" y1="93.0" x2="258.0" y2="93.0" stroke-width="1.2" />
<line x1="250.0" y1="96.0" x2="258.0" y2="96.0" stroke-width="1.2" />
<line x1="243.0" y1="40.2" x2="352.0" y2="40.2" stroke-width="1.8" />
<line x1="245.0" y1="56.0" x2="352.0" y2="56.0" stroke-width="1.8" />
<rect x="351.6" y="35.1" width="8.7" height="25.4" stroke-width="1.6" fill="none" rx="0" />
<line x1="354.5" y1="35.5" x2="354.5" y2="60.0" stroke-width="1.0" />
<rect x="361.9" y="34.0" width="62.9" height="3.9" stroke-width="0.6" fill="#111" rx="1.5" />
<rect x="361.9" y="58.1" width="24.5" height="3.9" stroke-width="0.6" fill="#111" rx="1.5" />
<rect x="399.0" y="58.1" width="22.0" height="3.9" stroke-width="0.6" fill="#111" rx="1.5" />
<line x1="360.3" y1="38.3" x2="430.0" y2="38.3" stroke-width="1.3" />
<line x1="360.3" y1="57.3" x2="430.0" y2="57.3" stroke-width="1.3" />
<rect x="357.9" y="39.9" width="19.6" height="16.2" stroke-width="0.6" fill="#151515" rx="0" />
<rect x="373.1" y="47.1" width="2.2" height="1.8" stroke-width="0.3" fill="#fff" rx="0" stroke="#fff"/>
<rect x="371.2" y="51.2" width="2.2" height="1.8" stroke-width="0.3" fill="#fff" rx="0" stroke="#fff"/>
<rect x="366.6" y="52.9" width="2.2" height="1.8" stroke-width="0.3" fill="#fff" rx="0" stroke="#fff"/>
<rect x="362.0" y="51.2" width="2.2" height="1.8" stroke-width="0.3" fill="#fff" rx="0" stroke="#fff"/>
<rect x="360.1" y="47.1" width="2.2" height="1.8" stroke-width="0.3" fill="#fff" rx="0" stroke="#fff"/>
<rect x="362.0" y="43.0" width="2.2" height="1.8" stroke-width="0.3" fill="#fff" rx="0" stroke="#fff"/>
<rect x="366.6" y="41.3" width="2.2" height="1.8" stroke-width="0.3" fill="#fff" rx="0" stroke="#fff"/>
<rect x="371.2" y="43.0" width="2.2" height="1.8" stroke-width="0.3" fill="#fff" rx="0" stroke="#fff"/>
<circle cx="367.7" cy="48.0" r="2.6" stroke-width="0.7" fill="none" stroke="#aaa"/>
<rect x="396.3" y="39.9" width="19.6" height="16.2" stroke-width="0.6" fill="#151515" rx="0" />
<rect x="411.5" y="47.1" width="2.2" height="1.8" stroke-width="0.3" fill="#fff" rx="0" stroke="#fff"/>
<rect x="409.6" y="51.2" width="2.2" height="1.8" stroke-width="0.3" fill="#fff" rx="0" stroke="#fff"/>
<rect x="405.0" y="52.9" width="2.2" height="1.8" stroke-width="0.3" fill="#fff" rx="0" stroke="#fff"/>
<rect x="400.4" y="51.2" width="2.2" height="1.8" stroke-width="0.3" fill="#fff" rx="0" stroke="#fff"/>
<rect x="398.5" y="47.1" width="2.2" height="1.8" stroke-width="0.3" fill="#fff" rx="0" stroke="#fff"/>
<rect x="400.4" y="43.0" width="2.2" height="1.8" stroke-width="0.3" fill="#fff" rx="0" stroke="#fff"/>
<rect x="405.0" y="41.3" width="2.2" height="1.8" stroke-width="0.3" fill="#fff" rx="0" stroke="#fff"/>
<rect x="409.6" y="43.0" width="2.2" height="1.8" stroke-width="0.3" fill="#fff" rx="0" stroke="#fff"/>
<circle cx="406.1" cy="48.0" r="2.6" stroke-width="0.7" fill="none" stroke="#aaa"/>
<rect x="381.0" y="38.0" width="2.5" height="6.0" stroke-width="0.8" fill="#666" rx="0" />
<path d="M382.7,34 L386,21 C387,18 389,17 392,17 L403,17 C405,17 406,18.5 405,21 L401,34" stroke-width="1.6" fill="none" />
<path d="M388,34 L391,22 M394,34 L397,22 M398.5,34 L401,22" stroke-width="1.3" fill="none" />
<line x1="425.0" y1="37.7" x2="525.0" y2="37.6" stroke-width="1.8" />
<line x1="493.4" y1="35.2" x2="541.0" y2="35.2" stroke-width="2.0" />
<line x1="541.0" y1="35.2" x2="544.0" y2="37.0" stroke-width="1.4" />
<line x1="425.0" y1="57.9" x2="536.0" y2="57.9" stroke-width="1.8" />
<path d="M525,37.6 C533,39 541,41 546,44 C551,47 553,52 549,57 C547,59.5 544,60.6 540,60.6 L536,59" stroke-width="1.8" fill="none" />
<path d="M528,40 C536,42 543,44 547,47" stroke-width="1.0" fill="none" />
<rect x="535.6" y="38.2" width="18.4" height="3.8" stroke-width="1.0" fill="#333" rx="0" />
<rect x="540.0" y="38.8" width="4.0" height="2.4" stroke-width="0.4" fill="#fff" rx="0" />
<rect x="547.0" y="38.8" width="4.0" height="2.4" stroke-width="0.4" fill="#fff" rx="0" />
<circle cx="505.6" cy="47.8" r="3.5" stroke-width="1.8" fill="#666" />
<line x1="503.5" y1="45.7" x2="507.7" y2="49.9" stroke-width="0.8" stroke="#fff"/>
<line x1="507.7" y1="45.7" x2="503.5" y2="49.9" stroke-width="0.8" stroke="#fff"/>
<rect x="516.3" y="44.6" width="13.1" height="6.8" stroke-width="1.8" fill="none" rx="3.4" />
<rect x="519.0" y="46.0" width="7.0" height="4.0" stroke-width="0.5" fill="#333" rx="1.5" />
<path d="M534.4,47 C534.4,45 538,45 540,45.8 C545,46 546,50 545.7,52 C545.5,56 542,57.3 539,57.3 C536,57.3 534.4,56 534.4,54 Z" stroke-width="1.2" fill="#111" />
<rect x="536.5" y="48.0" width="2.0" height="5.0" stroke-width="0.3" fill="#fff" rx="0" />
<rect x="496.0" y="57.9" width="12.0" height="3.0" stroke-width="1.2" fill="none" rx="0" />
<path d="M422,59 L424,70 L429,76 L434,76 L437,68 L441,62" stroke-width="1.5" fill="none" />
<circle cx="428.0" cy="66.0" r="2.0" stroke-width="1.4" fill="none" />
<rect x="424.0" y="61.0" width="5.0" height="3.0" stroke-width="1.0" fill="none" rx="0" />
<path d="M435.0,69.6 L450.6,72.0 L449.4,77.3 L434.0,73.7 Z" stroke-width="1.3" fill="none" />
<path d="M451.8,70.2 L508.8,87.4 L502.8,98.7 L454,82.6 C448,80.5 448,71 451.8,70.2 Z" stroke-width="1.6" fill="none" />
<path d="M456,84.7 L500,99.3" stroke-width="2.4" fill="none" stroke-dasharray="2,1.4"/>
<circle cx="510.0" cy="92.7" r="5.0" stroke-width="2.0" fill="#333" />
<circle cx="510.0" cy="92.7" r="1.8" stroke-width="0.5" fill="#fff" />
<rect x="497.0" y="96.5" width="9.0" height="4.5" stroke-width="1.3" fill="none" rx="0" />
<rect x="460.7" y="59.5" width="16.0" height="9.5" stroke-width="1.5" fill="none" rx="0" />
<line x1="462.0" y1="62.5" x2="475.0" y2="62.5" stroke-width="1.2" />
<line x1="462.0" y1="65.5" x2="475.0" y2="65.5" stroke-width="1.2" />
<rect x="489.8" y="59.0" width="16.6" height="4.0" stroke-width="1.0" fill="#111" rx="0" />
<circle cx="492.0" cy="64.0" r="1.8" stroke-width="1.0" fill="none" />
<line x1="508.8" y1="86.8" x2="529.0" y2="60.7" stroke-width="1.5" />
<path d="M529.0,60.6 L533.0,61.5 L518.0,90.0 L514.6,88.0 Z" stroke-width="1.3" fill="none" />
<path d="M540.0,70.0 L544.0,71.5 L524.0,94.0 L521.0,92.3 Z" stroke-width="1.5" fill="none" />
<rect x="515.0" y="80.0" width="4.0" height="6.0" stroke-width="1.0" fill="#111" rx="0" />
<path d="M516,94 L520,90 L526,96 L520,99 Z" stroke-width="1.3" fill="none" />
<line x1="539.6" y1="61.0" x2="539.6" y2="106.0" stroke-width="1.6" />
<line x1="552.7" y1="58.0" x2="552.7" y2="117.0" stroke-width="1.4" />
<path d="M555.6,59.7 L561.0,53.7 L566.3,113.0 L554.4,120.0 Z" stroke-width="1.8" fill="none" />
<line x1="556.0" y1="69.0" x2="562.5" y2="69.0" stroke-width="1.4" />
<line x1="555.0" y1="80.0" x2="563.5" y2="80.0" stroke-width="1.3" />
<line x1="555.0" y1="82.5" x2="563.8" y2="82.5" stroke-width="1.3" />
<line x1="555.0" y1="99.0" x2="565.0" y2="99.0" stroke-width="1.4" />
<line x1="555.0" y1="101.5" x2="565.0" y2="101.5" stroke-width="1.3" />
<path d="M569.9,53.7 L580.6,47.8 L591.3,107.2 L578.2,110.8 Z" stroke-width="1.8" fill="none" />
<path d="M573,57 L582,108" stroke-width="2.4" fill="none" stroke-dasharray="2.2,1.3"/>
<path d="M584,52 L594,106" stroke-width="2.2" fill="none" stroke-dasharray="2.2,1.3"/>
<circle cx="562.2" cy="49.0" r="6.0" stroke-width="1.6" fill="#111" />
<circle cx="562.2" cy="49.0" r="2.0" stroke-width="0.5" fill="#fff" />
<circle cx="574.6" cy="47.8" r="6.3" stroke-width="1.8" fill="none" />
<circle cx="574.6" cy="47.8" r="3.5" stroke-width="1.6" fill="none" />
<circle cx="545.0" cy="113.0" r="7.0" stroke-width="2.2" fill="none" />
<circle cx="545.0" cy="113.0" r="3.5" stroke-width="1.6" fill="none" />
<circle cx="545.0" cy="113.0" r="1.3" stroke-width="0.5" fill="#000" />
<circle cx="571.0" cy="113.1" r="5.5" stroke-width="2.2" fill="#222" />
<circle cx="571.0" cy="113.1" r="2.0" stroke-width="0.5" fill="#fff" />
<path d="M536,120 L536,108 C536,103 540,100 545,100 C550,100 553,104 553,108 L553,120" stroke-width="1.6" fill="none" />
<path d="M563,120 L563,109 C563,105 567,103 571,103 C575,103 578,106 578,109 L578,120" stroke-width="1.5" fill="none" />
<path d="M580,120 L585,108 C588,105 592,106 594,110 L596,120" stroke-width="1.4" fill="none" />
<path d="M544.0,92.0 L551.0,89.0 L554.0,93.0 L546.0,97.0 Z" stroke-width="1.2" fill="#333" />
<rect x="535.0" y="93.0" width="3.5" height="8.0" stroke-width="1.0" fill="none" rx="0" />
<rect x="529.0" y="122.0" width="69.6" height="2.8" stroke-width="0.8" fill="#000" rx="0" />
<rect x="96.3" y="315.0" width="4.3" height="29.8" stroke-width="1.5" fill="none" rx="0" />
<rect x="92.3" y="344.8" width="11.3" height="16.2" stroke-width="1.6" fill="none" rx="0" />
<rect x="89.6" y="350.0" width="3.0" height="11.0" stroke-width="0.6" fill="#111" rx="0" />
<rect x="103.6" y="350.0" width="3.0" height="11.0" stroke-width="0.6" fill="#111" rx="0" />
<circle cx="101.5" cy="348.0" r="0.8" stroke-width="0.4" fill="#000" />
<line x1="101.0" y1="356.0" x2="102.5" y2="356.0" stroke-width="1.0" />
<rect x="87.5" y="361.0" width="24.0" height="5.0" stroke-width="0.8" fill="#1a1a1a" rx="0" />
<rect x="93.0" y="362.5" width="9.0" height="2.0" stroke-width="0.3" fill="#ddd" rx="0" stroke="#ddd"/>
<circle cx="110.5" cy="363.5" r="2.4" stroke-width="1.2" fill="#fff" />
<path d="M87.7,365.0 L111.0,365.0 L114.0,412.7 L83.2,412.7 Z" stroke-width="1.6" fill="none" />
<rect x="89.2" y="369.2" width="18.0" height="38.3" stroke-width="1.6" fill="none" rx="0" />
<line x1="86.0" y1="369.0" x2="108.0" y2="369.0" stroke-width="1.2" />
<rect x="82.5" y="412.7" width="32.2" height="4.5" stroke-width="2.0" fill="none" rx="0" />
<line x1="84.0" y1="409.0" x2="114.0" y2="409.0" stroke-width="1.2" />
<rect x="94.0" y="408.5" width="4.0" height="3.5" stroke-width="0.5" fill="#111" rx="0" />
<rect x="110.0" y="381.0" width="2.5" height="5.0" stroke-width="0.8" fill="#333" rx="0" />
<rect x="110.0" y="395.0" width="2.5" height="5.0" stroke-width="0.8" fill="#333" rx="0" />
<path d="M85.5,417.2 L85.5,436 C86,442 91,447 97.5,448 L101,446" stroke-width="1.6" fill="none" />
<line x1="89.0" y1="417.2" x2="89.0" y2="436.0" stroke-width="1.2" />
<ellipse cx="98.3" cy="430.5" rx="9" ry="10" stroke-width="1.8"/>
<path d="M106,418 L111,417.2 L115,422 L112,428" stroke-width="1.4" fill="none" />
<path d="M92,444 L97,450 L104,447" stroke-width="1.4" fill="none" />
<rect x="440.0" y="610.0" width="26.0" height="178.8" stroke-width="1.7" fill="none" rx="0" />
<line x1="443.5" y1="610.0" x2="443.5" y2="788.8" stroke-width="1.0" />
<line x1="445.8" y1="610.0" x2="445.8" y2="788.8" stroke-width="1.9" />
<line x1="451.5" y1="610.0" x2="451.5" y2="788.8" stroke-width="1.9" />
<line x1="440.0" y1="612.5" x2="466.0" y2="612.5" stroke-width="1.0" />
<line x1="440.0" y1="786.3" x2="466.0" y2="786.3" stroke-width="1.0" />
<circle cx="478.5" cy="627.0" r="7.2" stroke-width="1.3" fill="none" stroke-dasharray="2,1"/>
<circle cx="478.5" cy="627.0" r="6.3" stroke-width="1.0" fill="none" />
<circle cx="478.5" cy="627.0" r="4.3" stroke-width="1.6" fill="#fff" />
<rect x="484.5" y="623.5" width="7.5" height="7.0" stroke-width="1.4" fill="#fff" rx="0" />
<line x1="488.0" y1="623.5" x2="488.0" y2="630.5" stroke-width="1.0" />
<rect x="467.0" y="620.0" width="3.5" height="14.0" stroke-width="1.4" fill="none" rx="0" />
<circle cx="478.5" cy="767.5" r="7.2" stroke-width="1.3" fill="none" stroke-dasharray="2,1"/>
<circle cx="478.5" cy="767.5" r="6.3" stroke-width="1.0" fill="none" />
<circle cx="478.5" cy="767.5" r="4.3" stroke-width="1.6" fill="#fff" />
<rect x="484.5" y="764.0" width="7.5" height="7.0" stroke-width="1.4" fill="#fff" rx="0" />
<line x1="488.0" y1="764.0" x2="488.0" y2="771.0" stroke-width="1.0" />
<rect x="467.0" y="760.5" width="3.5" height="14.0" stroke-width="1.4" fill="none" rx="0" />
<line x1="467.5" y1="655.0" x2="467.5" y2="745.0" stroke-width="1.5" />
<path d="M482.5,665 C477,680 476,718 482.5,735" stroke-width="1.5" fill="none" />
<line x1="483.8" y1="663.0" x2="483.8" y2="738.0" stroke-width="1.3" />
<path d="M483.8,720 C492,733 505,738 515,738.8" stroke-width="1.3" fill="none" />
<rect x="467.5" y="738.8" width="62.5" height="3.7" stroke-width="1.3" fill="none" rx="0" />
<rect x="467.5" y="655.0" width="14.0" height="4.0" stroke-width="1.3" fill="none" rx="0" />
<rect x="468.0" y="740.0" width="8.0" height="8.0" stroke-width="1.3" fill="none" rx="0" />
<rect x="468.0" y="650.0" width="8.0" height="8.0" stroke-width="1.3" fill="none" rx="0" />
<rect x="483.8" y="693.0" width="14.0" height="10.0" stroke-width="1.3" fill="none" rx="0" />
<rect x="497.8" y="691.0" width="22.0" height="13.0" stroke-width="1.5" fill="none" rx="3" />
<line x1="476.0" y1="696.0" x2="484.0" y2="696.0" stroke-width="1.2" />
<line x1="476.0" y1="700.0" x2="484.0" y2="700.0" stroke-width="1.2" />
<path d="M528,612.0 C517.7,611.5 513.7,614.5 513.7,623.25 C513.7,632 517.7,635 528,634.5" stroke-width="1.6" fill="none" />
<path d="M518.2,613.0 C516.7,619.25 516.7,627.25 518.2,633.5" stroke-width="1.1" fill="none" />
<path d="M522.2,612.5 L521.7,622.25 L523.2,624.25 L522.7,634" stroke-width="1.1" fill="none" />
<line x1="515.2" y1="622.8" x2="517.2" y2="622.8" stroke-width="1.0" />
<path d="M585.4,612.0 C599.5,611.5 603.5,614.5 603.5,623.25 C603.5,632 599.5,635 585.4,634.5" stroke-width="1.6" fill="none" />
<path d="M599.0,613.0 C600.5,619.25 600.5,627.25 599.0,633.5" stroke-width="1.1" fill="none" />
<path d="M595.0,612.5 L595.5,622.25 L594.0,624.25 L594.5,634" stroke-width="1.1" fill="none" />
<line x1="602.0" y1="622.8" x2="600.0" y2="622.8" stroke-width="1.0" />
<rect x="527.9" y="610.0" width="57.6" height="29.7" stroke-width="2.0" fill="#fff" rx="0" />
<path d="M528,761.0 C517.7,760.5 513.7,763.5 513.7,772.75 C513.7,782 517.7,785 528,784.5" stroke-width="1.6" fill="none" />
<path d="M518.2,762.0 C516.7,768.75 516.7,776.75 518.2,783.5" stroke-width="1.1" fill="none" />
<path d="M522.2,761.5 L521.7,771.75 L523.2,773.75 L522.7,784" stroke-width="1.1" fill="none" />
<line x1="515.2" y1="772.2" x2="517.2" y2="772.2" stroke-width="1.0" />
<path d="M585.4,761.0 C599.5,760.5 603.5,763.5 603.5,772.75 C603.5,782 599.5,785 585.4,784.5" stroke-width="1.6" fill="none" />
<path d="M599.0,762.0 C600.5,768.75 600.5,776.75 599.0,783.5" stroke-width="1.1" fill="none" />
<path d="M595.0,761.5 L595.5,771.75 L594.0,773.75 L594.5,784" stroke-width="1.1" fill="none" />
<line x1="602.0" y1="772.2" x2="600.0" y2="772.2" stroke-width="1.0" />
<rect x="527.9" y="758.3" width="57.6" height="29.0" stroke-width="2.0" fill="#fff" rx="0" />
<line x1="539.8" y1="640.0" x2="539.8" y2="652.0" stroke-width="1.5" />
<line x1="539.8" y1="742.0" x2="539.8" y2="758.0" stroke-width="1.5" />
<line x1="553.4" y1="640.0" x2="553.4" y2="652.0" stroke-width="1.1" />
<line x1="553.4" y1="742.0" x2="553.4" y2="758.0" stroke-width="1.1" />
<line x1="564.3" y1="640.0" x2="564.3" y2="652.0" stroke-width="1.1" />
<line x1="564.3" y1="742.0" x2="564.3" y2="758.0" stroke-width="1.1" />
<line x1="581.2" y1="640.0" x2="581.2" y2="652.0" stroke-width="1.5" />
<line x1="581.2" y1="742.0" x2="581.2" y2="758.0" stroke-width="1.5" />
<line x1="583.5" y1="640.0" x2="583.5" y2="652.0" stroke-width="1.1" />
<line x1="583.5" y1="742.0" x2="583.5" y2="758.0" stroke-width="1.1" />
<rect x="545.0" y="640.0" width="30.0" height="4.0" stroke-width="1.2" fill="none" rx="0" />
<rect x="545.0" y="754.0" width="30.0" height="4.0" stroke-width="1.2" fill="none" rx="0" />
<rect x="528.0" y="648.0" width="14.0" height="9.0" stroke-width="1.4" fill="none" rx="0" />
<rect x="528.0" y="740.0" width="14.0" height="9.0" stroke-width="1.4" fill="none" rx="0" />
<rect x="525.5" y="656.5" width="90.0" height="82.0" stroke-width="1.6" fill="none" rx="0" />
<line x1="466.7" y1="658.3" x2="525.5" y2="658.3" stroke-width="1.3" />
<rect x="532.0" y="655.5" width="75.0" height="3.5" stroke-width="0.8" fill="#111" rx="0" />
<rect x="532.0" y="735.5" width="75.0" height="3.5" stroke-width="0.8" fill="#111" rx="0" />
<line x1="520.0" y1="652.0" x2="617.0" y2="652.0" stroke-width="1.3" />
<line x1="520.0" y1="742.0" x2="617.0" y2="742.0" stroke-width="1.3" />
<rect x="538.0" y="651.0" width="4.0" height="4.0" stroke-width="0.8" fill="#fff" rx="0" />
<rect x="538.0" y="740.0" width="4.0" height="4.0" stroke-width="0.8" fill="#fff" rx="0" />
<rect x="550.0" y="651.0" width="4.0" height="4.0" stroke-width="0.8" fill="#fff" rx="0" />
<rect x="550.0" y="740.0" width="4.0" height="4.0" stroke-width="0.8" fill="#fff" rx="0" />
<rect x="562.0" y="651.0" width="4.0" height="4.0" stroke-width="0.8" fill="#fff" rx="0" />
<rect x="562.0" y="740.0" width="4.0" height="4.0" stroke-width="0.8" fill="#fff" rx="0" />
<rect x="574.0" y="651.0" width="4.0" height="4.0" stroke-width="0.8" fill="#fff" rx="0" />
<rect x="574.0" y="740.0" width="4.0" height="4.0" stroke-width="0.8" fill="#fff" rx="0" />
<rect x="586.0" y="651.0" width="4.0" height="4.0" stroke-width="0.8" fill="#fff" rx="0" />
<rect x="586.0" y="740.0" width="4.0" height="4.0" stroke-width="0.8" fill="#fff" rx="0" />
<rect x="598.0" y="651.0" width="4.0" height="4.0" stroke-width="0.8" fill="#fff" rx="0" />
<rect x="598.0" y="740.0" width="4.0" height="4.0" stroke-width="0.8" fill="#fff" rx="0" />
<rect x="594.4" y="669.3" width="15.1" height="55.7" stroke-width="1.5" fill="#fff" rx="0" />
<line x1="594.4" y1="680.0" x2="609.5" y2="680.0" stroke-width="1.2" />
<line x1="594.4" y1="690.0" x2="609.5" y2="690.0" stroke-width="1.2" />
<line x1="594.4" y1="706.0" x2="609.5" y2="706.0" stroke-width="1.2" />
<line x1="594.4" y1="716.0" x2="609.5" y2="716.0" stroke-width="1.2" />
<rect x="604.0" y="650.0" width="12.0" height="19.0" stroke-width="1.4" fill="none" rx="0" />
<rect x="604.0" y="660.0" width="12.0" height="3.0" stroke-width="1.0" fill="#222" rx="0" />
<path d="M612,662 C609,680 609,716 612,734" stroke-width="1.0" fill="none" />
<line x1="523.5" y1="700.0" x2="523.5" y2="735.0" stroke-width="1.3" />
<line x1="523.5" y1="728.0" x2="530.0" y2="735.0" stroke-width="1.2" />
<circle cx="563.9" cy="698.8" r="37.2" stroke-width="1.8" fill="#fff" />
<circle cx="563.9" cy="698.8" r="35.8" stroke-width="0.8" fill="none" />
<circle cx="595.9" cy="698.8" r="1.7" stroke-width="1.3" fill="none" />
<circle cx="595.4" cy="704.7" r="1.7" stroke-width="1.3" fill="none" />
<circle cx="593.7" cy="710.4" r="1.7" stroke-width="1.3" fill="none" />
<circle cx="591.1" cy="715.6" r="1.7" stroke-width="1.3" fill="none" />
<circle cx="587.5" cy="720.4" r="1.7" stroke-width="1.3" fill="none" />
<circle cx="583.2" cy="724.3" r="1.7" stroke-width="1.3" fill="none" />
<circle cx="578.2" cy="727.4" r="1.7" stroke-width="1.3" fill="none" />
<circle cx="572.7" cy="729.6" r="1.7" stroke-width="1.3" fill="none" />
<circle cx="566.9" cy="730.7" r="1.7" stroke-width="1.3" fill="none" />
<circle cx="560.9" cy="730.7" r="1.7" stroke-width="1.3" fill="none" />
<circle cx="555.1" cy="729.6" r="1.7" stroke-width="1.3" fill="none" />
<circle cx="549.6" cy="727.4" r="1.7" stroke-width="1.3" fill="none" />
<circle cx="544.6" cy="724.3" r="1.7" stroke-width="1.3" fill="none" />
<circle cx="540.3" cy="720.4" r="1.7" stroke-width="1.3" fill="none" />
<circle cx="536.7" cy="715.6" r="1.7" stroke-width="1.3" fill="none" />
<circle cx="534.1" cy="710.4" r="1.7" stroke-width="1.3" fill="none" />
<circle cx="532.4" cy="704.7" r="1.7" stroke-width="1.3" fill="none" />
<circle cx="531.9" cy="698.8" r="1.7" stroke-width="1.3" fill="none" />
<circle cx="532.4" cy="692.9" r="1.7" stroke-width="1.3" fill="none" />
<circle cx="534.1" cy="687.2" r="1.7" stroke-width="1.3" fill="none" />
<circle cx="536.7" cy="682.0" r="1.7" stroke-width="1.3" fill="none" />
<circle cx="540.3" cy="677.2" r="1.7" stroke-width="1.3" fill="none" />
<circle cx="544.6" cy="673.3" r="1.7" stroke-width="1.3" fill="none" />
<circle cx="549.6" cy="670.2" r="1.7" stroke-width="1.3" fill="none" />
<circle cx="555.1" cy="668.0" r="1.7" stroke-width="1.3" fill="none" />
<circle cx="560.9" cy="666.9" r="1.7" stroke-width="1.3" fill="none" />
<circle cx="566.9" cy="666.9" r="1.7" stroke-width="1.3" fill="none" />
<circle cx="572.7" cy="668.0" r="1.7" stroke-width="1.3" fill="none" />
<circle cx="578.2" cy="670.2" r="1.7" stroke-width="1.3" fill="none" />
<circle cx="583.2" cy="673.3" r="1.7" stroke-width="1.3" fill="none" />
<circle cx="587.5" cy="677.2" r="1.7" stroke-width="1.3" fill="none" />
<circle cx="591.1" cy="682.0" r="1.7" stroke-width="1.3" fill="none" />
<circle cx="593.7" cy="687.2" r="1.7" stroke-width="1.3" fill="none" />
<circle cx="595.4" cy="692.9" r="1.7" stroke-width="1.3" fill="none" />
<line x1="563.7" y1="640.0" x2="563.7" y2="758.0" stroke-width="1.1" />
<line x1="550.0" y1="698.6" x2="616.0" y2="698.6" stroke-width="1.2" />
<path d="M565,668 C570,672 572,680 569,688" stroke-width="1.8" fill="none" />
<path d="M570,666 C577,670 580,678 577,686" stroke-width="1.5" fill="none" />
<path d="M575,668 C585,672 590,682 586,690" stroke-width="1.4" fill="none" />
<path d="M580,676 L589,680 L586,686 L578,683 Z" stroke-width="1.2" fill="#444" />
<circle cx="568.0" cy="675.0" r="2.4" stroke-width="1.0" fill="#111" />
<circle cx="574.0" cy="680.0" r="1.8" stroke-width="1.0" fill="#111" />
<circle cx="583.0" cy="670.0" r="1.6" stroke-width="1.0" fill="#222" />
<path d="M555,667 L561,666 L563,676 L557,677 Z" stroke-width="1.0" fill="#222" />
<path d="M540,706 C545,714 548,722 556,728" stroke-width="1.8" fill="none" />
<path d="M536,712 C540,720 545,726 552,731" stroke-width="1.4" fill="none" />
<path d="M546,712 L551,709 L554,715 L549,719 Z" stroke-width="1.0" fill="#333" />
<circle cx="542.0" cy="722.0" r="2.2" stroke-width="1.0" fill="#111" />
<circle cx="550.0" cy="726.0" r="1.8" stroke-width="1.0" fill="#111" />
<circle cx="556.0" cy="721.0" r="1.6" stroke-width="1.0" fill="#222" />
<path d="M548,732 L556,734 L560,728" stroke-width="1.4" fill="none" />
<path d="M568,720 C570,726 575,730 582,729" stroke-width="1.4" fill="none" />
<circle cx="576.0" cy="726.0" r="1.6" stroke-width="1.0" fill="#222" />
<g transform="translate(167.8,472.8) rotate(29.6)">
<rect x="-71.0" y="-9.0" width="5.0" height="17.0" stroke-width="1.5" fill="none" rx="0" />
<line x1="-68.5" y1="-9.0" x2="-68.5" y2="8.0" stroke-width="1.0" />
<rect x="-66.0" y="-11.5" width="29.0" height="22.5" stroke-width="1.7" fill="#fff" rx="0" />
<rect x="-64.0" y="-6.0" width="6.0" height="12.0" stroke-width="1.4" fill="none" rx="0" />
<rect x="-56.0" y="-8.5" width="17.0" height="16.5" stroke-width="1.5" fill="none" rx="0" />
<rect x="-60.0" y="-16.5" width="12.0" height="5.0" stroke-width="1.7" fill="#fff" rx="1.5" />
<circle cx="-56.5" cy="-14.0" r="1.3" stroke-width="1.0" fill="none" />
<circle cx="-51.5" cy="-14.0" r="1.3" stroke-width="1.0" fill="none" />
<rect x="-46.0" y="-16.5" width="12.0" height="5.0" stroke-width="1.7" fill="#fff" rx="1.5" />
<circle cx="-42.5" cy="-14.0" r="1.3" stroke-width="1.0" fill="none" />
<circle cx="-37.5" cy="-14.0" r="1.3" stroke-width="1.0" fill="none" />
<rect x="-61.0" y="11.0" width="13.0" height="4.5" stroke-width="1.0" fill="#222" rx="1.5" />
<rect x="-46.0" y="11.0" width="12.0" height="4.5" stroke-width="1.0" fill="#222" rx="1.5" />
<rect x="-37.0" y="-9.0" width="74.0" height="18.0" stroke-width="1.6" fill="none" rx="3" />
<rect x="-26.5" y="-3.0" width="9.0" height="6.0" stroke-width="1.3" fill="none" rx="1.5" />
<rect x="-11.5" y="-3.0" width="9.0" height="6.0" stroke-width="1.3" fill="none" rx="1.5" />
<rect x="3.5" y="-3.0" width="9.0" height="6.0" stroke-width="1.3" fill="none" rx="1.5" />
<rect x="18.5" y="-3.0" width="9.0" height="6.0" stroke-width="1.3" fill="none" rx="1.5" />
<circle cx="-33.0" cy="-5.0" r="0.9" stroke-width="0.4" fill="#000" />
<circle cx="-33.0" cy="5.0" r="0.9" stroke-width="0.4" fill="#000" />
<circle cx="33.0" cy="-5.0" r="0.9" stroke-width="0.4" fill="#000" />
<circle cx="33.0" cy="5.0" r="0.9" stroke-width="0.4" fill="#000" />
<circle cx="0.5" cy="-6.0" r="0.9" stroke-width="0.4" fill="#000" />
<circle cx="0.5" cy="6.0" r="0.9" stroke-width="0.4" fill="#000" />
<rect x="39.0" y="-13.5" width="18.0" height="27.0" stroke-width="1.6" fill="#fff" rx="0" />
<rect x="45.0" y="-9.0" width="8.0" height="18.0" stroke-width="1.4" fill="none" rx="0" />
<rect x="47.0" y="-7.0" width="4.0" height="14.0" stroke-width="1.0" fill="none" rx="0" />
<line x1="41.0" y1="-9.0" x2="45.0" y2="-9.0" stroke-width="1.0" />
<line x1="41.0" y1="9.0" x2="45.0" y2="9.0" stroke-width="1.0" />
<rect x="57.0" y="-13.5" width="27.0" height="27.0" stroke-width="1.6" fill="#fff" rx="0" />
<rect x="63.0" y="-5.5" width="13.5" height="10.5" stroke-width="1.4" fill="none" rx="2.2" />
<line x1="39.0" y1="-13.5" x2="84.0" y2="-13.5" stroke-width="2.2" stroke-dasharray="1.6,1"/>
<line x1="39.0" y1="13.5" x2="84.0" y2="13.5" stroke-width="2.2" stroke-dasharray="1.6,1"/>
<line x1="37.0" y1="-16.0" x2="84.0" y2="-16.0" stroke-width="1.2" />
<line x1="37.0" y1="16.0" x2="84.0" y2="16.0" stroke-width="1.2" />
<circle cx="59.5" cy="-10.5" r="1.1" stroke-width="0.4" fill="#000" />
<circle cx="81.0" cy="-10.5" r="1.1" stroke-width="0.4" fill="#000" />
<circle cx="59.5" cy="10.5" r="1.1" stroke-width="0.4" fill="#000" />
<circle cx="81.0" cy="10.5" r="1.1" stroke-width="0.4" fill="#000" />
<circle cx="70.0" cy="-11.5" r="1.1" stroke-width="0.4" fill="#000" />
<circle cx="70.0" cy="11.5" r="1.1" stroke-width="0.4" fill="#000" />
<path d="M44,17 L46,21 L49,17" stroke-width="1.2" fill="#222" />
<rect x="84.0" y="-14.5" width="62.0" height="5.0" stroke-width="1.4" fill="none" rx="0" />
<rect x="146.0" y="-15.5" width="14.0" height="7.0" stroke-width="1.4" fill="none" rx="1" />
<rect x="84.0" y="9.5" width="54.0" height="5.0" stroke-width="1.4" fill="none" rx="0" />
<rect x="138.0" y="9.0" width="14.0" height="7.0" stroke-width="1.4" fill="none" rx="1" />
<circle cx="100.0" cy="-9.5" r="1.0" stroke-width="0.4" fill="#000" />
<circle cx="94.0" cy="9.5" r="1.0" stroke-width="0.4" fill="#000" />
<line x1="84.0" y1="-8.0" x2="84.0" y2="8.0" stroke-width="1.3" />
<line x1="84.0" y1="-8.1" x2="222.0" y2="-8.1" stroke-width="1.6" />
<line x1="84.0" y1="8.2" x2="222.0" y2="8.2" stroke-width="1.6" />
<rect x="219.0" y="-14.0" width="5.5" height="28.0" stroke-width="1.5" fill="#fff" rx="0" />
<line x1="220.0" y1="-12.0" x2="223.5" y2="-11.0" stroke-width="0.8" />
<line x1="220.0" y1="-9.0" x2="223.5" y2="-8.0" stroke-width="0.8" />
<line x1="220.0" y1="-6.0" x2="223.5" y2="-5.0" stroke-width="0.8" />
<line x1="220.0" y1="-3.0" x2="223.5" y2="-2.0" stroke-width="0.8" />
<line x1="220.0" y1="0.0" x2="223.5" y2="1.0" stroke-width="0.8" />
<line x1="220.0" y1="3.0" x2="223.5" y2="4.0" stroke-width="0.8" />
<line x1="220.0" y1="6.0" x2="223.5" y2="7.0" stroke-width="0.8" />
<line x1="220.0" y1="9.0" x2="223.5" y2="10.0" stroke-width="0.8" />
<line x1="220.0" y1="12.0" x2="223.5" y2="13.0" stroke-width="0.8" />
<rect x="225.0" y="-14.5" width="21.0" height="29.0" stroke-width="1.2" fill="#555" rx="1.5" />
<line x1="227.5" y1="-13.3" x2="227.5" y2="-9.5" stroke-width="1.0" stroke="#fff"/>
<line x1="227.5" y1="9.5" x2="227.5" y2="13.3" stroke-width="1.0" stroke="#fff"/>
<line x1="230.7" y1="-13.3" x2="230.7" y2="-9.5" stroke-width="1.0" stroke="#fff"/>
<line x1="230.7" y1="9.5" x2="230.7" y2="13.3" stroke-width="1.0" stroke="#fff"/>
<line x1="233.9" y1="-13.3" x2="233.9" y2="-9.5" stroke-width="1.0" stroke="#fff"/>
<line x1="233.9" y1="9.5" x2="233.9" y2="13.3" stroke-width="1.0" stroke="#fff"/>
<line x1="237.1" y1="-13.3" x2="237.1" y2="-9.5" stroke-width="1.0" stroke="#fff"/>
<line x1="237.1" y1="9.5" x2="237.1" y2="13.3" stroke-width="1.0" stroke="#fff"/>
<line x1="240.3" y1="-13.3" x2="240.3" y2="-9.5" stroke-width="1.0" stroke="#fff"/>
<line x1="240.3" y1="9.5" x2="240.3" y2="13.3" stroke-width="1.0" stroke="#fff"/>
<line x1="243.5" y1="-13.3" x2="243.5" y2="-9.5" stroke-width="1.0" stroke="#fff"/>
<line x1="243.5" y1="9.5" x2="243.5" y2="13.3" stroke-width="1.0" stroke="#fff"/>
<line x1="239.5" y1="0.0" x2="242.5" y2="0.0" stroke-width="1.0" stroke="#fff"/>
<line x1="238.6" y1="2.6" x2="240.9" y2="4.5" stroke-width="1.0" stroke="#fff"/>
<line x1="236.2" y1="3.9" x2="236.7" y2="6.9" stroke-width="1.0" stroke="#fff"/>
<line x1="233.5" y1="3.5" x2="232.0" y2="6.1" stroke-width="1.0" stroke="#fff"/>
<line x1="231.7" y1="1.4" x2="228.9" y2="2.4" stroke-width="1.0" stroke="#fff"/>
<line x1="231.7" y1="-1.4" x2="228.9" y2="-2.4" stroke-width="1.0" stroke="#fff"/>
<line x1="233.5" y1="-3.5" x2="232.0" y2="-6.1" stroke-width="1.0" stroke="#fff"/>
<line x1="236.2" y1="-3.9" x2="236.7" y2="-6.9" stroke-width="1.0" stroke="#fff"/>
<line x1="238.6" y1="-2.6" x2="240.9" y2="-4.5" stroke-width="1.0" stroke="#fff"/>
<circle cx="235.5" cy="0.0" r="3.0" stroke-width="0.5" fill="#111" />
<line x1="246.0" y1="-9.0" x2="252.0" y2="-9.0" stroke-width="1.4" />
<line x1="246.0" y1="9.5" x2="252.0" y2="9.5" stroke-width="1.4" />
<path d="M252,-15 L261,-15 L261,15 L252,15 Z" stroke-width="1.4" fill="#fff" />
<path d="M254,-4 C256,-2 256,2 254,4" stroke-width="1.1" fill="none" />
<rect x="255.0" y="-11.5" width="3.5" height="3.0" stroke-width="1.0" fill="none" rx="1" />
<rect x="255.0" y="-6.0" width="3.5" height="3.0" stroke-width="1.0" fill="none" rx="1" />
<rect x="255.0" y="3.0" width="3.5" height="3.0" stroke-width="1.0" fill="none" rx="1" />
<rect x="255.0" y="8.5" width="3.5" height="3.0" stroke-width="1.0" fill="none" rx="1" />
<line x1="261.0" y1="-10.5" x2="271.0" y2="-10.5" stroke-width="1.4" />
<line x1="261.0" y1="10.0" x2="271.0" y2="10.0" stroke-width="1.4" />
<rect x="271.0" y="-15.5" width="21.0" height="31.0" stroke-width="1.2" fill="#555" rx="1.5" />
<line x1="273.5" y1="-14.3" x2="273.5" y2="-10.5" stroke-width="1.0" stroke="#fff"/>
<line x1="273.5" y1="10.5" x2="273.5" y2="14.3" stroke-width="1.0" stroke="#fff"/>
<line x1="276.7" y1="-14.3" x2="276.7" y2="-10.5" stroke-width="1.0" stroke="#fff"/>
<line x1="276.7" y1="10.5" x2="276.7" y2="14.3" stroke-width="1.0" stroke="#fff"/>
<line x1="279.9" y1="-14.3" x2="279.9" y2="-10.5" stroke-width="1.0" stroke="#fff"/>
<line x1="279.9" y1="10.5" x2="279.9" y2="14.3" stroke-width="1.0" stroke="#fff"/>
<line x1="283.1" y1="-14.3" x2="283.1" y2="-10.5" stroke-width="1.0" stroke="#fff"/>
<line x1="283.1" y1="10.5" x2="283.1" y2="14.3" stroke-width="1.0" stroke="#fff"/>
<line x1="286.3" y1="-14.3" x2="286.3" y2="-10.5" stroke-width="1.0" stroke="#fff"/>
<line x1="286.3" y1="10.5" x2="286.3" y2="14.3" stroke-width="1.0" stroke="#fff"/>
<line x1="289.5" y1="-14.3" x2="289.5" y2="-10.5" stroke-width="1.0" stroke="#fff"/>
<line x1="289.5" y1="10.5" x2="289.5" y2="14.3" stroke-width="1.0" stroke="#fff"/>
<line x1="285.5" y1="0.0" x2="288.5" y2="0.0" stroke-width="1.0" stroke="#fff"/>
<line x1="284.6" y1="2.6" x2="286.9" y2="4.5" stroke-width="1.0" stroke="#fff"/>
<line x1="282.2" y1="3.9" x2="282.7" y2="6.9" stroke-width="1.0" stroke="#fff"/>
<line x1="279.5" y1="3.5" x2="278.0" y2="6.1" stroke-width="1.0" stroke="#fff"/>
<line x1="277.7" y1="1.4" x2="274.9" y2="2.4" stroke-width="1.0" stroke="#fff"/>
<line x1="277.7" y1="-1.4" x2="274.9" y2="-2.4" stroke-width="1.0" stroke="#fff"/>
<line x1="279.5" y1="-3.5" x2="278.0" y2="-6.1" stroke-width="1.0" stroke="#fff"/>
<line x1="282.2" y1="-3.9" x2="282.7" y2="-6.9" stroke-width="1.0" stroke="#fff"/>
<line x1="284.6" y1="-2.6" x2="286.9" y2="-4.5" stroke-width="1.0" stroke="#fff"/>
<circle cx="281.5" cy="0.0" r="3.0" stroke-width="0.5" fill="#111" />
<path d="M291,-10.5 L382,-12.3 L382,10.3 L291,10.3 Z" stroke-width="0" fill="#fff" stroke="none"/>
<line x1="292.0" y1="-10.5" x2="382.0" y2="-12.3" stroke-width="1.6" />
<line x1="292.0" y1="10.3" x2="382.0" y2="10.3" stroke-width="1.6" />
</g>
<g transform="translate(167.8,472.8) rotate(29.6)">
<path d="M376,-12.4 L440,-13.6 L440,-10.8 L376,-10.2 Z" stroke-width="0" fill="#fff" stroke="none"/>
<line x1="376.0" y1="-12.4" x2="440.0" y2="-13.8" stroke-width="1.4" />
<rect x="381.0" y="-11.0" width="55.0" height="26.3" stroke-width="1.7" fill="#fff" rx="0" />
<rect x="395.0" y="-3.3" width="13.5" height="10.5" stroke-width="1.5" fill="none" rx="2.5" />
<rect x="377.0" y="-13.0" width="9.0" height="2.6" stroke-width="0.8" fill="#222" rx="0" />
<rect x="372.0" y="10.3" width="9.0" height="3.0" stroke-width="0.8" fill="#222" rx="0" />
<rect x="428.0" y="-13.0" width="57.0" height="3.6" stroke-width="1.4" fill="#fff" rx="0" />
<rect x="428.0" y="-7.5" width="57.0" height="3.6" stroke-width="1.4" fill="#fff" rx="0" />
<rect x="428.0" y="-2.0" width="57.0" height="3.6" stroke-width="1.4" fill="#fff" rx="0" />
<rect x="428.0" y="3.5" width="57.0" height="3.6" stroke-width="1.4" fill="#fff" rx="0" />
<rect x="428.0" y="9.0" width="57.0" height="3.6" stroke-width="1.4" fill="#fff" rx="0" />
<rect x="445.0" y="-4.5" width="30.0" height="13.0" stroke-width="1.4" fill="#fff" rx="0" />
<rect x="449.0" y="-1.0" width="9.0" height="4.0" stroke-width="1.1" fill="none" rx="2" />
<rect x="462.0" y="1.0" width="8.0" height="6.0" stroke-width="1.2" fill="none" rx="0" />
<line x1="466.0" y1="1.0" x2="466.0" y2="7.0" stroke-width="1.0" />
<rect x="478.0" y="-6.0" width="10.0" height="18.0" stroke-width="1.4" fill="#fff" rx="0" />
</g>
<path d="M617.8,625.6 L638.5,622.2 L640,620 L757,620 C765,626 773,632 779,639 L782.3,642 L782.3,754 L781.9,756.6 C773,765 765,771 757,777.4 L640,777.4 L638.5,775 L617.8,771.5 Z" stroke-width="1.6" fill="none" />
<path d="M640.7,620 L640.7,609.7 L793.8,609.7 L800.1,618.2 L800.1,633 L798.5,634 L798.5,760 L800.3,762 L800.3,778 L793.8,786.9 L717.2,786.9 L717.2,777.4" stroke-width="1.6" fill="none" />
<line x1="802.1" y1="618.0" x2="802.1" y2="768.5" stroke-width="1.8" />
<line x1="734.5" y1="609.7" x2="734.5" y2="620.0" stroke-width="1.2" />
<circle cx="765.4" cy="640.4" r="3.8" stroke-width="1.6" fill="none" />
<circle cx="765.4" cy="640.4" r="1.2" stroke-width="0.5" fill="#000" />
<circle cx="765.4" cy="756.7" r="3.8" stroke-width="1.6" fill="none" />
<circle cx="765.4" cy="756.7" r="1.2" stroke-width="0.5" fill="#000" />
<circle cx="627.0" cy="697.6" r="3.5" stroke-width="1.6" fill="none" />
<circle cx="627.0" cy="697.6" r="1.2" stroke-width="0.5" fill="#000" />
<circle cx="627.0" cy="657.0" r="1.0" stroke-width="0.5" fill="#000" />
<circle cx="627.0" cy="740.0" r="1.0" stroke-width="0.5" fill="#000" />
<rect x="782.2" y="638.7" width="16.7" height="117.3" stroke-width="1.5" fill="none" rx="0" />
<line x1="784.0" y1="645.0" x2="784.0" y2="750.0" stroke-width="0.9" />
<line x1="789.0" y1="652.0" x2="789.0" y2="690.0" stroke-width="1.0" />
<line x1="789.0" y1="707.0" x2="789.0" y2="730.0" stroke-width="1.0" />
<line x1="791.5" y1="652.0" x2="791.5" y2="690.0" stroke-width="1.0" />
<line x1="791.5" y1="707.0" x2="791.5" y2="730.0" stroke-width="1.0" />
<line x1="795.0" y1="652.0" x2="795.0" y2="690.0" stroke-width="1.0" />
<line x1="795.0" y1="707.0" x2="795.0" y2="730.0" stroke-width="1.0" />
<rect x="782.2" y="692.0" width="16.7" height="13.2" stroke-width="1.2" fill="#fff" rx="0" />
<rect x="782.2" y="638.7" width="16.7" height="5.0" stroke-width="1.2" fill="none" rx="0" />
<line x1="782.2" y1="646.5" x2="798.9" y2="646.5" stroke-width="1.2" />
<rect x="785.0" y="652.0" width="5.0" height="5.0" stroke-width="1.0" fill="none" rx="0" />
<circle cx="787.5" cy="654.5" r="1.0" stroke-width="0.4" fill="#000" />
<rect x="784.0" y="731.5" width="12.0" height="14.8" stroke-width="1.5" fill="none" rx="0" />
<path d="M790,734 C787,735 787,738 790,739 C793,740 793,743 789,744" stroke-width="1.6" fill="none" />
<rect x="784.0" y="747.0" width="13.0" height="8.0" stroke-width="1.0" fill="none" rx="0" />
<line x1="786.0" y1="748.0" x2="787.0" y2="755.0" stroke-width="1.2" />
<line x1="791.0" y1="748.0" x2="790.0" y2="755.0" stroke-width="1.2" />
<line x1="794.0" y1="748.0" x2="795.0" y2="755.0" stroke-width="1.2" />
<rect x="794.0" y="660.0" width="4.0" height="8.0" stroke-width="1.0" fill="none" rx="0" />
<rect x="794.0" y="712.0" width="4.0" height="8.0" stroke-width="1.0" fill="none" rx="0" />
<rect x="798.9" y="647.4" width="16.6" height="3.0" stroke-width="1.2" fill="#fff" rx="0" />
<rect x="798.9" y="746.5" width="16.6" height="3.0" stroke-width="1.2" fill="#fff" rx="0" />
<path d="M793.8,609.7 L866.6,609.7 L933.8,620 L948.8,622 L948.8,775 L933.8,777.5 L866.6,786.9 L793.8,786.9" stroke-width="1.6" fill="none" />
<line x1="802.1" y1="628.8" x2="933.8" y2="628.8" stroke-width="1.8" />
<line x1="802.1" y1="768.8" x2="933.8" y2="768.8" stroke-width="1.8" />
<line x1="933.8" y1="620.0" x2="933.8" y2="777.5" stroke-width="2.0" />
<line x1="948.8" y1="653.8" x2="950.6" y2="653.8" stroke-width="1.8" />
<line x1="948.8" y1="686.0" x2="950.6" y2="686.0" stroke-width="1.8" />
<line x1="948.8" y1="710.0" x2="950.6" y2="710.0" stroke-width="1.8" />
<line x1="948.8" y1="732.5" x2="950.6" y2="732.5" stroke-width="1.8" />
<line x1="822.0" y1="609.0" x2="825.0" y2="609.0" stroke-width="1.8" />
<line x1="848.0" y1="609.0" x2="851.0" y2="609.0" stroke-width="1.8" />
<line x1="878.0" y1="611.0" x2="881.0" y2="611.0" stroke-width="1.8" />
<line x1="900.0" y1="613.0" x2="903.0" y2="613.0" stroke-width="1.8" />
<line x1="918.0" y1="616.0" x2="921.0" y2="616.0" stroke-width="1.8" />
<line x1="822.0" y1="787.0" x2="825.0" y2="787.0" stroke-width="1.8" />
<line x1="848.0" y1="787.0" x2="851.0" y2="787.0" stroke-width="1.8" />
<line x1="878.0" y1="785.0" x2="881.0" y2="785.0" stroke-width="1.8" />
<line x1="900.0" y1="783.0" x2="903.0" y2="783.0" stroke-width="1.8" />
<line x1="918.0" y1="781.0" x2="921.0" y2="781.0" stroke-width="1.8" />
<rect x="818.9" y="660.9" width="39.9" height="69.6" stroke-width="1.8" fill="none" rx="0" />
<path d="M829.4,672 L829.4,669 C829.4,664 839.9,664 839.9,669 L839.9,674 C839.9,680 829.4,680 829.4,674 Z" stroke-width="1.8" fill="none" />
<circle cx="868.0" cy="702.9" r="7.4" stroke-width="1.6" fill="none" />
<circle cx="925.0" cy="678.8" r="7.4" stroke-width="1.6" fill="none" />
<rect x="907.5" y="692.5" width="15.5" height="13.8" stroke-width="1.6" fill="none" rx="0" />
<circle cx="864.0" cy="755.4" r="13.7" stroke-width="1.6" fill="none" />
<path d="M933.8,648.8 L937.5,648.8 L937.5,658.8 L933.8,658.8" stroke-width="1.4" fill="none" />
<rect x="930.5" y="650.8" width="3.3" height="3.0" stroke-width="0.6" fill="#000" rx="0" />
<rect x="930.5" y="654.8" width="3.3" height="2.0" stroke-width="0.6" fill="#000" rx="0" />
<path d="M933.8,692.5 L937.5,692.5 L937.5,702.5 L933.8,702.5" stroke-width="1.4" fill="none" />
<rect x="930.5" y="694.5" width="3.3" height="3.0" stroke-width="0.6" fill="#000" rx="0" />
<rect x="930.5" y="698.5" width="3.3" height="2.0" stroke-width="0.6" fill="#000" rx="0" />
<path d="M933.8,735 L937.5,735 L937.5,745 L933.8,745" stroke-width="1.4" fill="none" />
<rect x="930.5" y="737.0" width="3.3" height="3.0" stroke-width="0.6" fill="#000" rx="0" />
<rect x="930.5" y="741.0" width="3.3" height="2.0" stroke-width="0.6" fill="#000" rx="0" />
<circle cx="806.0" cy="661.0" r="1.0" stroke-width="0.5" fill="#000" />
<circle cx="806.0" cy="685.0" r="1.0" stroke-width="0.5" fill="#000" />
<circle cx="806.0" cy="710.0" r="1.0" stroke-width="0.5" fill="#000" />
<circle cx="806.0" cy="735.0" r="1.0" stroke-width="0.5" fill="#000" />
<line x1="819.0" y1="653.0" x2="819.0" y2="657.0" stroke-width="1.4" />
<line x1="819.0" y1="737.0" x2="819.0" y2="741.0" stroke-width="1.4" />
<circle cx="831.0" cy="748.0" r="1.0" stroke-width="0.5" fill="#000" />
<circle cx="850.0" cy="748.0" r="1.0" stroke-width="0.5" fill="#000" />
</svg></body></html>
